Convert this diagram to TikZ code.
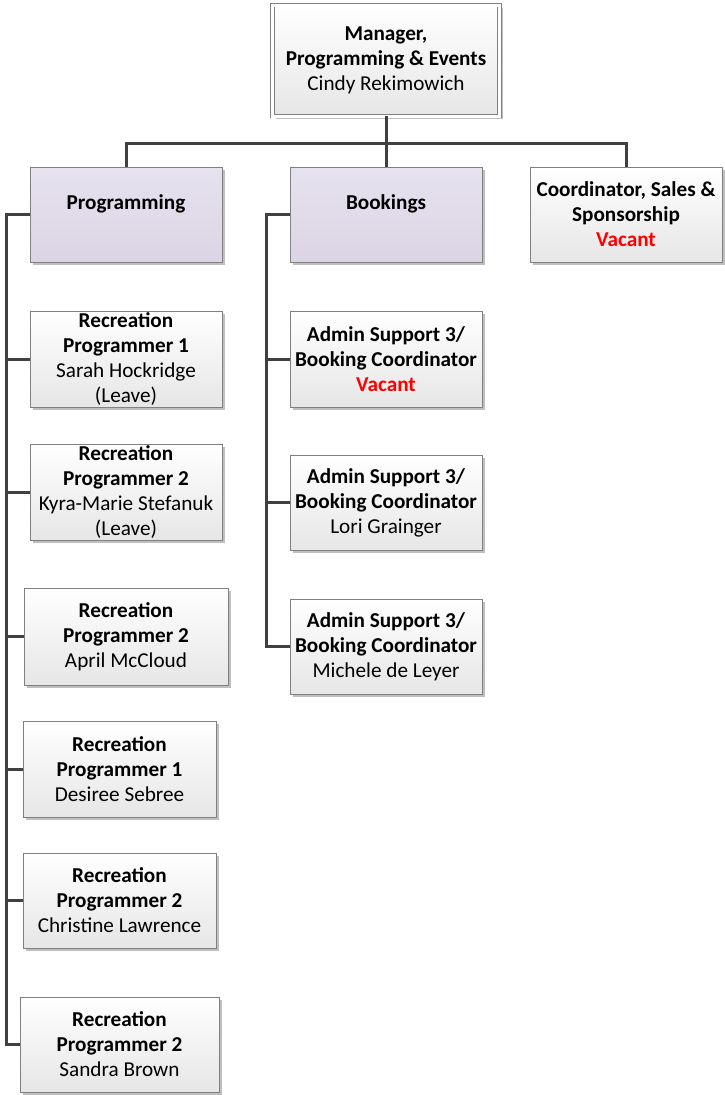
\documentclass[tikz,border=0pt]{standalone}
\usepackage{fontspec}
\setmainfont{Carlito}
\usetikzlibrary{shadows}
\definecolor{boxtop}{RGB}{255,255,255}
\definecolor{boxbot}{RGB}{230,230,230}
\definecolor{purtop}{RGB}{231,226,239}
\definecolor{purbot}{RGB}{218,212,228}
\definecolor{bordergray}{RGB}{128,128,128}
\definecolor{linegray}{RGB}{64,64,64}
\definecolor{vacred}{RGB}{255,0,0}
\newcommand{\vac}{\textcolor{vacred}{\textbf{Vacant}}}
\tikzset{
  orgbox/.style={rectangle, draw=bordergray, line width=1pt, top color=boxtop, bottom color=boxbot,
    inner sep=0pt, align=center, font=\fontsize{21.2}{25}\selectfont,
    drop shadow={shadow xshift=3pt, shadow yshift=-3pt, opacity=0.25, fill=black}},
  purbox/.style={orgbox, top color=purtop, bottom color=purbot},
  topbox/.style={orgbox, double=white, double distance=3pt, line width=0.8pt},
  conn/.style={draw=linegray, line width=3pt}
}
\begin{document}
\begin{tikzpicture}[x=1pt,y=-1pt]
\useasboundingbox (0,0) rectangle (724,1095);
\node[topbox, minimum width=227pt, minimum height=111pt] (top) at (386,60.5)
  {\textbf{Manager,}\\\textbf{Programming \& Events}\\Cindy Rekimowich};
\node[purbox, minimum width=192pt, minimum height=95pt] (prog) at (126,214.5)
  {\textbf{Programming}\\\mbox{}};
\node[purbox, minimum width=192pt, minimum height=95pt] (book) at (386,214.5)
  {\textbf{Bookings}\\\mbox{}};
\node[orgbox, minimum width=192pt, minimum height=95pt] (coor) at (626,214.5)
  {\textbf{Coordinator, Sales \&}\\\textbf{Sponsorship}\\\vac};

\node[orgbox, minimum width=192pt, minimum height=96pt] (p1) at (126,359)
  {\textbf{Recreation}\\\textbf{Programmer 1}\\Sarah Hockridge\\(Leave)};
\node[orgbox, minimum width=192pt, minimum height=96pt] (p2) at (126,492)
  {\textbf{Recreation}\\\textbf{Programmer 2}\\Kyra-Marie Stefanuk\\(Leave)};
\node[orgbox, minimum width=204pt, minimum height=97pt] (p3) at (126,636.5)
  {\textbf{Recreation}\\\textbf{Programmer 2}\\April McCloud};
\node[orgbox, minimum width=193pt, minimum height=96pt] (p4) at (119.5,769)
  {\textbf{Recreation}\\\textbf{Programmer 1}\\Desiree Sebree};
\node[orgbox, minimum width=193pt, minimum height=95pt] (p5) at (119.5,900.5)
  {\textbf{Recreation}\\\textbf{Programmer 2}\\Christine Lawrence};
\node[orgbox, minimum width=199pt, minimum height=95pt] (p6) at (119.5,1044.5)
  {\textbf{Recreation}\\\textbf{Programmer 2}\\Sandra Brown};

\node[orgbox, minimum width=192pt, minimum height=96pt] (k1) at (386,359)
  {\textbf{Admin Support 3/}\\\textbf{Booking Coordinator}\\\vac};
\node[orgbox, minimum width=192pt, minimum height=95pt] (k2) at (386,502.5)
  {\textbf{Admin Support 3/}\\\textbf{Booking Coordinator}\\Lori Grainger};
\node[orgbox, minimum width=192pt, minimum height=95pt] (k3) at (386,646.5)
  {\textbf{Admin Support 3/}\\\textbf{Booking Coordinator}\\Michele de Leyer};

\coordinate (bus) at (386,143);
\coordinate (sp) at (6,214.5);
\coordinate (sk) at (266,214.5);

\draw[conn] (top.south) -- (book.north);
\draw[conn] (prog.north) |- (bus) -| (coor.north);

\draw[conn] (prog.west) -- (sp) |- (p6.west);
\foreach \n in {p1,p2,p3,p4,p5} \draw[conn] (\n.west) -- (\n.west -| sp);

\draw[conn] (book.west) -- (sk) |- (k3.west);
\foreach \n in {k1,k2} \draw[conn] (\n.west) -- (\n.west -| sk);
\end{tikzpicture}
\end{document}
